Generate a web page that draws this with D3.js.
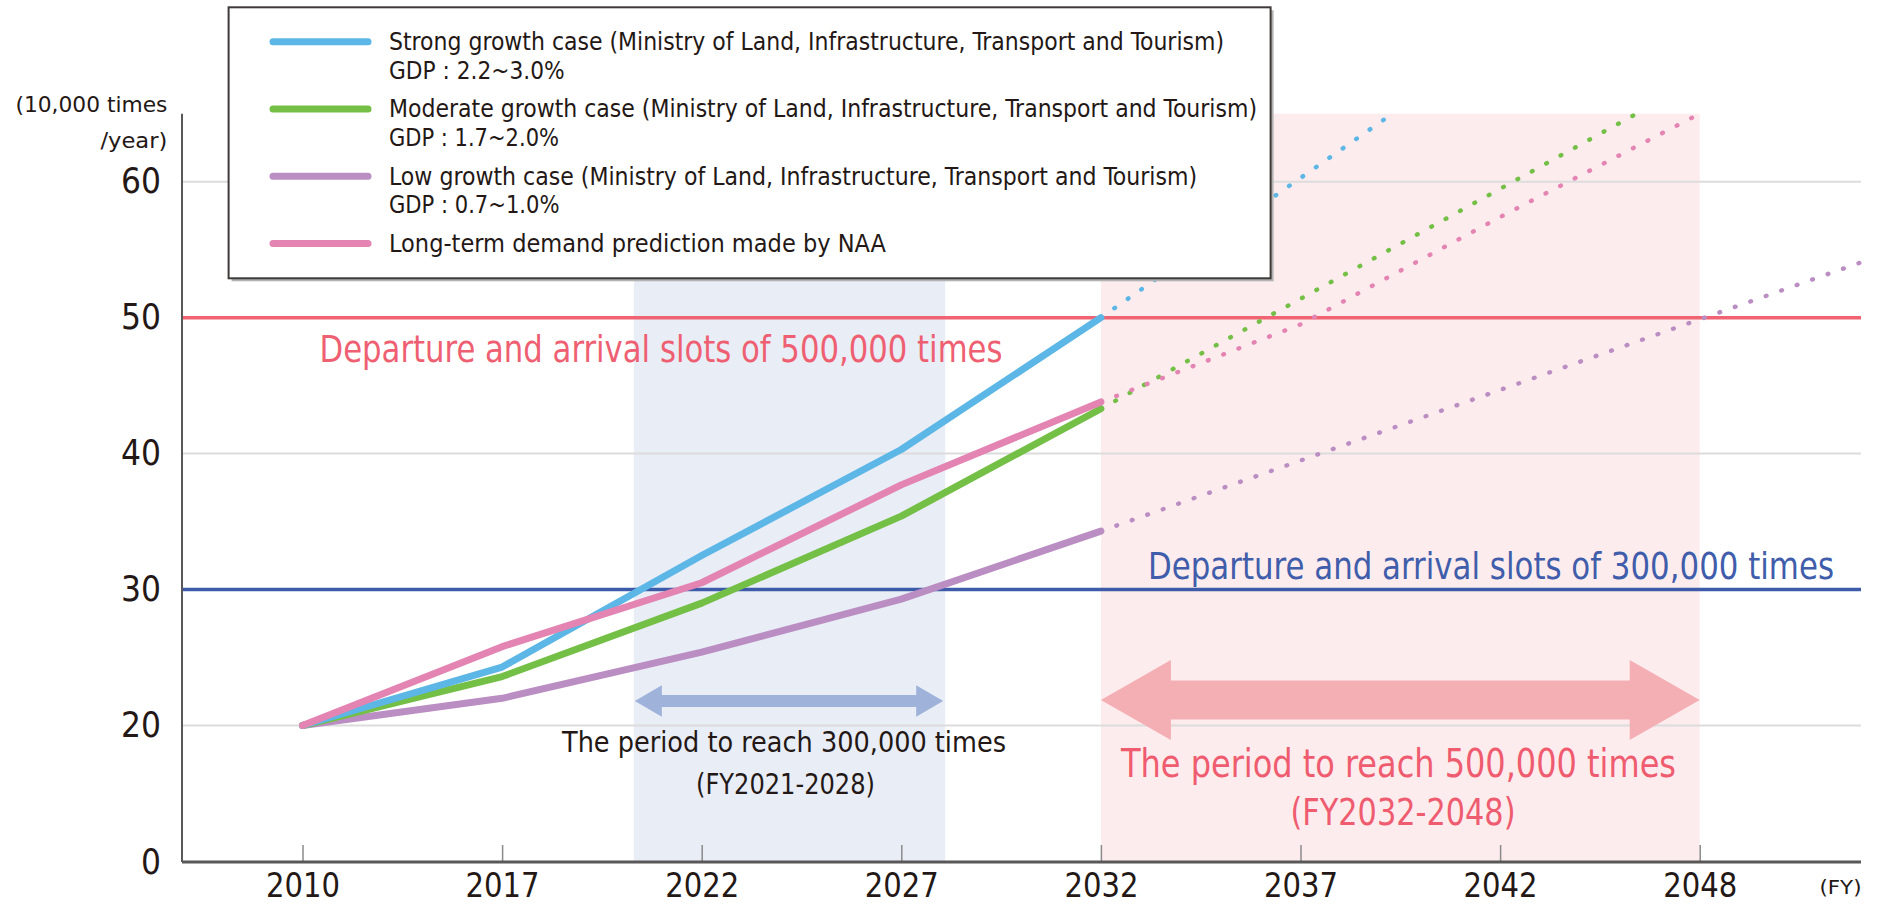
<!DOCTYPE html>
<html><head><meta charset="utf-8">
<script src="https://cdn.jsdelivr.net/npm/d3@7"></script>
<style>html,body{margin:0;padding:0;background:#fff;overflow:hidden}</style>
</head><body><svg id="c" width="1883" height="907"></svg>
<script>
// ---------- data ----------
const years = [2010, 2017, 2022, 2027, 2032, 2037, 2042, 2048];
const actualYears = [2010, 2017, 2022, 2027, 2032];
const strongValues = [20, 24.3, 32.5, 40.3, 50];
const moderateValues = [20, 23.6, 29.0, 35.4, 43.3];
const lowValues = [20, 22.0, 25.4, 29.3, 34.3];
const naaValues = [20, 25.8, 30.5, 37.7, 43.8];
const strongProjYears = [2032, 2039.3];
const strongProjValues = [50, 65];
const moderateProjYears = [2032, 2046.1];
const moderateProjValues = [43.3, 65];
const lowProjYears = [2032, 2053];
const lowProjValues = [34.3, 54.2];
const naaProjYears = [2032, 2037, 2042, 2048];
const naaProjValues = [43.8, 49.5, 57.4, 65];
const yTicks = [0, 20, 30, 40, 50, 60];
const slotLevels = [50, 30];
const slotLabels = ["Departure and arrival slots of 500,000 times", "Departure and arrival slots of 300,000 times"];
const period300 = [2020.3, 2028.1];
const period500 = [2032, 2048];
const period300Labels = ["The period to reach 300,000 times", "(FY2021-2028)"];
const period500Labels = ["The period to reach 500,000 times", "(FY2032-2048)"];
const seriesNames = [
  "Strong growth case (Ministry of Land, Infrastructure, Transport and Tourism)",
  "Moderate growth case (Ministry of Land, Infrastructure, Transport and Tourism)",
  "Low growth case (Ministry of Land, Infrastructure, Transport and Tourism)",
  "Long-term demand prediction made by NAA"
];
const gdpLabels = ["GDP : 2.2~3.0%", "GDP : 1.7~2.0%", "GDP : 0.7~1.0%", ""];
const yUnitLabels = ["(10,000 times", "/year)"];
const xUnitLabel = "(FY)";

// ---------- setup ----------
const FONT = '"Liberation Sans Narrow","DejaVu Sans Condensed","Noto Sans",sans-serif';
const colors = ["#5cb6e6", "#74bf46", "#bb8ec3", "#e384b3"];
const svg = d3.select("#c").style("font-family", FONT);

const x = d3.scaleLinear().domain(years).range(years.map((d, i) => 302.5 + i * 199.6));
const y = d3.scaleLinear().domain([0, 20, 60]).range([862, 725.5, 181.7]);
const X0 = 182, X1 = 1861, TOP = 65;

function fitText(sel, w) { sel.attr("textLength", w).attr("lengthAdjust", "spacingAndGlyphs"); return sel; }

// bands
svg.append("rect").attr("x", x(period300[0])).attr("y", y(TOP))
  .attr("width", x(period300[1]) - x(period300[0])).attr("height", y(0) - y(TOP)).attr("fill", "#e9edf6");
svg.append("rect").attr("x", x(period500[0])).attr("y", y(TOP))
  .attr("width", x(period500[1]) - x(period500[0])).attr("height", y(0) - y(TOP)).attr("fill", "#fdeced");

// gridlines
svg.append("g").selectAll("line").data(yTicks.filter(d => d > 0)).join("line")
  .attr("x1", X0).attr("x2", X1).attr("y1", d => y(d)).attr("y2", d => y(d))
  .attr("stroke", "#dcdcdc").attr("stroke-width", 2);

// threshold lines
const slotColors = ["#ef6372", "#3d5ba9"];
svg.append("g").selectAll("line").data(slotLevels).join("line")
  .attr("x1", X0).attr("x2", X1).attr("y1", d => y(d)).attr("y2", d => y(d))
  .attr("stroke", (d, i) => slotColors[i]).attr("stroke-width", 3.5);

// axes
const xAxis = d3.axisBottom(x).tickValues(years).tickFormat(d3.format("d"))
  .tickSizeInner(-17).tickSizeOuter(0).tickPadding(12);
const gx = svg.append("g").attr("transform", `translate(0,${y(0)})`).call(xAxis);
gx.select(".domain").remove();
gx.selectAll(".tick line").attr("stroke", "#8a8a8a").attr("stroke-width", 1.5);
gx.selectAll(".tick text").attr("font-size", 33).attr("fill", "#231815").style("font-family", FONT)
  .attr("textLength", 74).attr("lengthAdjust", "spacingAndGlyphs");
svg.append("line").attr("x1", X0).attr("x2", X1).attr("y1", y(0)).attr("y2", y(0))
  .attr("stroke", "#595757").attr("stroke-width", 3);

const yAxis = d3.axisLeft(y).tickValues(yTicks).tickSize(0).tickPadding(21);
const gy = svg.append("g").attr("transform", `translate(${X0},0)`).call(yAxis);
gy.select(".domain").remove();
gy.selectAll(".tick text").attr("font-size", 35).attr("fill", "#231815").style("font-family", FONT)
  .attr("textLength", d => d === 0 ? 20 : 40).attr("lengthAdjust", "spacingAndGlyphs");
svg.append("line").attr("x1", X0).attr("x2", X0).attr("y1", y(TOP)).attr("y2", y(0))
  .attr("stroke", "#595757").attr("stroke-width", 2);

// unit labels
fitText(svg.append("text").attr("x", 167.4).attr("y", 112.3).attr("text-anchor", "end")
  .attr("font-size", 20.5).attr("fill", "#231815").text(yUnitLabels[0]), 152);
fitText(svg.append("text").attr("x", 167.4).attr("y", 147.7).attr("text-anchor", "end")
  .attr("font-size", 20.5).attr("fill", "#231815").text(yUnitLabels[1]), 67);
fitText(svg.append("text").attr("x", 1861.5).attr("y", 894).attr("text-anchor", "end")
  .attr("font-size", 20).attr("fill", "#231815").text(xUnitLabel), 42);

// arrows
function doubleArrow(x0, x1, yc, bh, hh, hl) {
  const p = d3.path();
  p.moveTo(x0, yc);
  p.lineTo(x0 + hl, yc - hh); p.lineTo(x0 + hl, yc - bh);
  p.lineTo(x1 - hl, yc - bh); p.lineTo(x1 - hl, yc - hh);
  p.lineTo(x1, yc);
  p.lineTo(x1 - hl, yc + hh); p.lineTo(x1 - hl, yc + bh);
  p.lineTo(x0 + hl, yc + bh); p.lineTo(x0 + hl, yc + hh);
  p.closePath();
  return p.toString();
}
const arrowLevel = 21.8;
svg.append("path").attr("d", doubleArrow(x(period300[0]) + 1, x(period300[1]) - 2, y(arrowLevel), 6, 15.7, 27))
  .attr("fill", "#9fb2da");
svg.append("path").attr("d", doubleArrow(x(period500[0]), x(period500[1]), y(arrowLevel) - 1, 19.5, 40, 70))
  .attr("fill", "#f4afb4");

// series
const series = [
  {name: seriesNames[0], vals: strongValues, py: strongProjYears, pv: strongProjValues, c: colors[0]},
  {name: seriesNames[1], vals: moderateValues, py: moderateProjYears, pv: moderateProjValues, c: colors[1]},
  {name: seriesNames[2], vals: lowValues, py: lowProjYears, pv: lowProjValues, c: colors[2]},
  {name: seriesNames[3], vals: naaValues, py: naaProjYears, pv: naaProjValues, c: colors[3]}
];
const line = d3.line().x(d => x(d[0])).y(d => y(d[1]));
const drawOrder = [2, 1, 0, 3];
const gDots = svg.append("g");
drawOrder.forEach(i => {
  const s = series[i];
  gDots.append("path").attr("d", line(s.py.map((yr, j) => [yr, s.pv[j]])))
    .attr("fill", "none").attr("stroke", s.c).attr("stroke-width", 4.4)
    .attr("stroke-linecap", "round").attr("stroke-dasharray", "0.8 15.6");
});
const gLines = svg.append("g");
drawOrder.forEach(i => {
  const s = series[i];
  gLines.append("path").attr("d", line(actualYears.map((yr, j) => [yr, s.vals[j]])))
    .attr("fill", "none").attr("stroke", s.c).attr("stroke-width", 7)
    .attr("stroke-linejoin", "round").attr("stroke-linecap", "round");
});

// annotation texts
fitText(svg.append("text").attr("x", 319.5).attr("y", y(slotLevels[0]) + 44.4)
  .attr("font-size", 38).attr("fill", "#ef5f72").text(slotLabels[0]), 683);
fitText(svg.append("text").attr("x", 1148).attr("y", y(slotLevels[1]) - 11)
  .attr("font-size", 38).attr("fill", "#3f5dab").text(slotLabels[1]), 686);
fitText(svg.append("text").attr("x", 784).attr("y", 752.3).attr("text-anchor", "middle")
  .attr("font-size", 29).attr("fill", "#231815").text(period300Labels[0]), 444);
fitText(svg.append("text").attr("x", 785.5).attr("y", 794).attr("text-anchor", "middle")
  .attr("font-size", 29).attr("fill", "#231815").text(period300Labels[1]), 179);
fitText(svg.append("text").attr("x", 1398.5).attr("y", 776.5).attr("text-anchor", "middle")
  .attr("font-size", 39).attr("fill", "#ef5b6f").text(period500Labels[0]), 555);
fitText(svg.append("text").attr("x", 1403).attr("y", 825).attr("text-anchor", "middle")
  .attr("font-size", 37).attr("fill", "#ef5b6f").text(period500Labels[1]), 225);

// legend
const lg = svg.append("g");
lg.append("rect").attr("x", 231.6).attr("y", 10.3).attr("width", 1042).attr("height", 271).attr("fill", "#b3b3b3");
lg.append("rect").attr("x", 228.6).attr("y", 7.3).attr("width", 1042).attr("height", 271)
  .attr("fill", "#fff").attr("stroke", "#3e3a39").attr("stroke-width", 2);
const nameWidths = [835, 868, 808, 497];
const gdpWidths = [175.6, 170, 170.5, 0];
series.forEach((s, i) => {
  const base = 50 + i * 67.3;
  lg.append("line").attr("x1", 273).attr("x2", 368).attr("y1", base - 8.3).attr("y2", base - 8.3)
    .attr("stroke", s.c).attr("stroke-width", 7).attr("stroke-linecap", "round");
  fitText(lg.append("text").attr("x", 389).attr("y", base).attr("font-size", 25)
    .attr("fill", "#231815").text(s.name), nameWidths[i]);
  if (gdpLabels[i]) {
    fitText(lg.append("text").attr("x", 389).attr("y", base + 28.5).attr("font-size", 25)
      .attr("fill", "#231815").text(gdpLabels[i]), gdpWidths[i]);
  }
});
</script></body></html>
